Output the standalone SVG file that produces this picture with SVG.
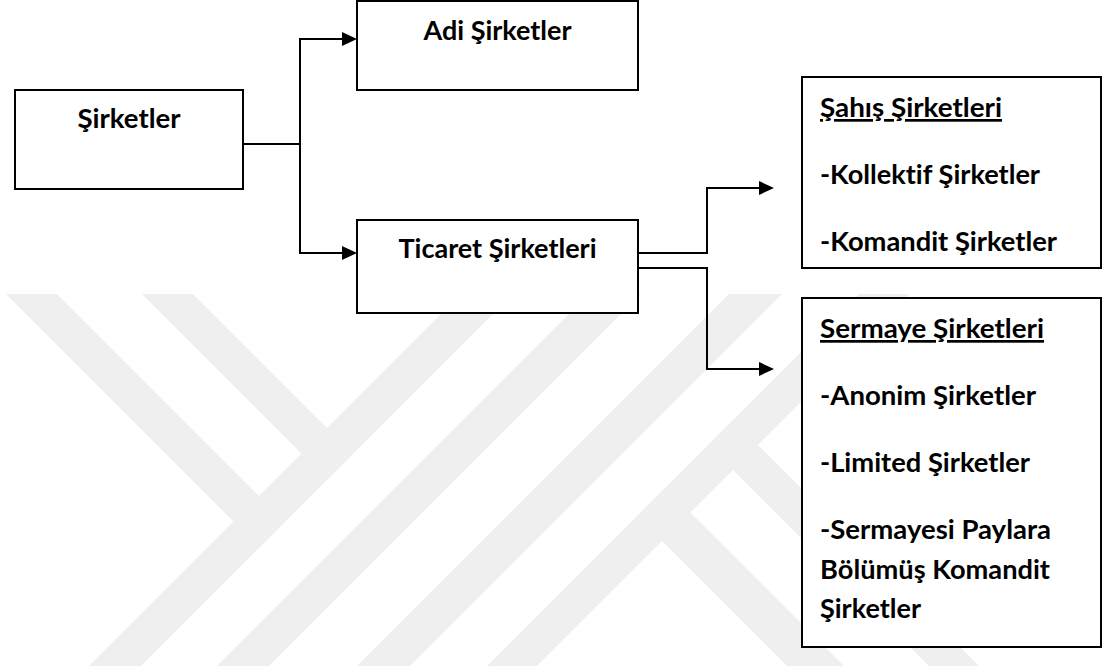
<svg xmlns="http://www.w3.org/2000/svg" width="1103" height="666" viewBox="0 0 1103 666">
  <style>
    .box { fill: #ffffff; stroke: #000000; stroke-width: 2; }
    .lbl { font-family: "Lato", "Liberation Sans", sans-serif; font-weight: bold; font-size: 27px; fill: #000000; font-variant-ligatures: none; font-feature-settings: "liga" 0, "clig" 0; }
    .mid { text-anchor: middle; }
    .ul { text-decoration: underline; }
    .wire { fill: none; stroke: #000000; stroke-width: 2; }
    .wm { fill: #efefef; }
  </style>
  <defs>
    <marker id="arrow" markerUnits="userSpaceOnUse" markerWidth="15" markerHeight="14" refX="7" refY="7" orient="auto">
      <path d="M0,0 L15,7 L0,14 z" fill="#000000"/>
    </marker>
    <clipPath id="wmclip">
      <rect x="0" y="294" width="1103" height="372"/>
    </clipPath>
  </defs>
  <rect x="0" y="0" width="1103" height="666" fill="#ffffff"/>

  <g id="watermark" clip-path="url(#wmclip)">
    <polygon class="wm" points="461,294 513,294 141,666 89,666"/>
    <polygon class="wm" points="589,294 641,294 269,666 217,666"/>
    <polygon class="wm" points="729,294 782,294 410,666 357,666"/>
    <polygon class="wm" points="859,294 909,294 537,666 487,666"/>
    <polygon class="wm" points="6,294 57,294 285,522 259.5,547.5"/>
    <polygon class="wm" points="142,294 193,294 353,454 327.5,479.5"/>
    <polygon class="wm" points="637,516 665.5,487.5 844,666 787,666"/>
    <polygon class="wm" points="708,445 733,420 979,666 929,666"/>
  </g>

  <g id="connectors">
    <path class="wire" d="M243,144 H300"/>
    <path class="wire" d="M300,144 V39 H349" marker-end="url(#arrow)"/>
    <path class="wire" d="M300,144 V253 H349" marker-end="url(#arrow)"/>
    <path class="wire" d="M638,253 H707 V188 H766" marker-end="url(#arrow)"/>
    <path class="wire" d="M638,268 H707 V369 H766" marker-end="url(#arrow)"/>
  </g>

  <g id="node-sirketler">
    <rect class="box" x="15" y="90" width="228" height="99"/>
    <text class="lbl mid" x="129" y="128" textLength="103" lengthAdjust="spacingAndGlyphs">Şirketler</text>
  </g>

  <g id="node-adi">
    <rect class="box" x="357" y="1" width="281" height="89"/>
    <text class="lbl mid" x="497.5" y="40" textLength="148" lengthAdjust="spacingAndGlyphs">Adi Şirketler</text>
  </g>

  <g id="node-ticaret">
    <rect class="box" x="357" y="220" width="281" height="93"/>
    <text class="lbl mid" x="497.5" y="258" textLength="198" lengthAdjust="spacingAndGlyphs">Ticaret Şirketleri</text>
  </g>

  <g id="node-sahis">
    <rect class="box" x="802" y="77" width="299" height="191"/>
    <text class="lbl ul" x="820" y="117" textLength="182" lengthAdjust="spacingAndGlyphs">Şahış Şirketleri</text>
    <text class="lbl" x="820" y="184" textLength="220" lengthAdjust="spacingAndGlyphs">-Kollektif Şirketler</text>
    <text class="lbl" x="820" y="251" textLength="237" lengthAdjust="spacingAndGlyphs">-Komandit Şirketler</text>
  </g>

  <g id="node-sermaye">
    <rect class="box" x="802" y="298" width="299" height="349"/>
    <text class="lbl ul" x="820" y="338" textLength="224" lengthAdjust="spacingAndGlyphs">Sermaye Şirketleri</text>
    <text class="lbl" x="820" y="405" textLength="216" lengthAdjust="spacingAndGlyphs">-Anonim Şirketler</text>
    <text class="lbl" x="820" y="472" textLength="210" lengthAdjust="spacingAndGlyphs">-Limited Şirketler</text>
    <text class="lbl" x="820" y="539" textLength="231" lengthAdjust="spacingAndGlyphs">-Sermayesi Paylara</text>
    <text class="lbl" x="820" y="579" textLength="230" lengthAdjust="spacingAndGlyphs">Bölümüş Komandit</text>
    <text class="lbl" x="820" y="618" textLength="101" lengthAdjust="spacingAndGlyphs">Şirketler</text>
  </g>
</svg>
